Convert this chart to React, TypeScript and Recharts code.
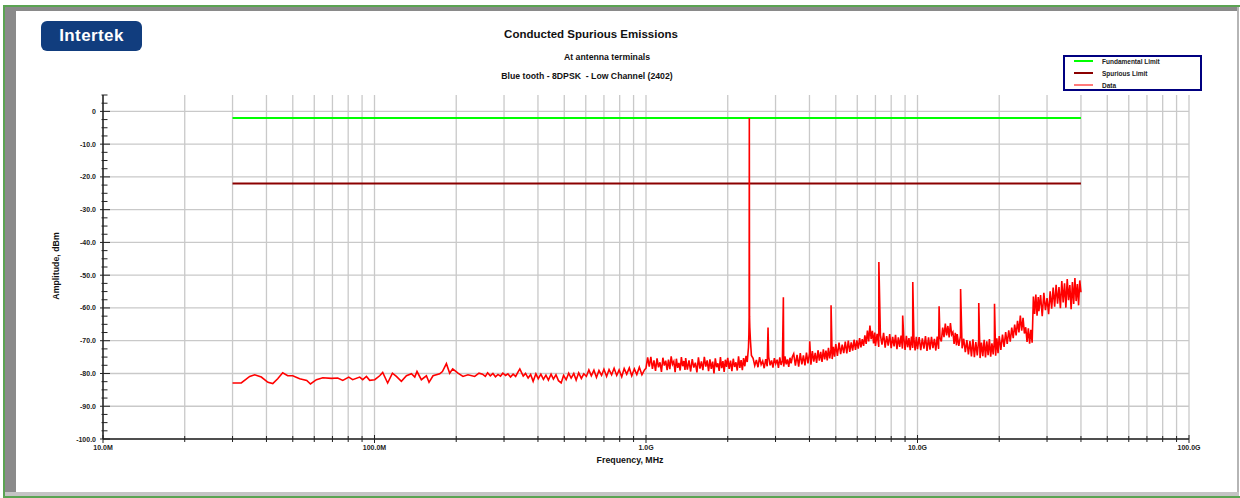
import React from 'react';
import { LineChart, Line, XAxis, YAxis, CartesianGrid, Legend } from 'recharts';

const FONT = '"Liberation Sans", Arial, Helvetica, sans-serif';

// x axis: frequency in MHz, log scale
const xDecades = [10, 100, 1000, 10000, 100000];
const xDecadeLabels = ['10.0M', '100.0M', '1.0G', '10.0G', '100.0G'];
const xMultipliers = [2, 3, 4, 5, 6, 7, 8, 9];

// y axis: amplitude in dBm
const yMajor = [0, -10, -20, -30, -40, -50, -60, -70, -80, -90, -100];
const yTop = 5;
const yBottom = -100;
const yMinorStep = 2.5;

// limit lines
const limitFreqs = [30, 40000];
const fundamentalLimit = -2;
const spuriousLimit = -22;

const legendOrder = ['Fundamental Limit', 'Spurious Limit', 'Data'];

// measured trace below 1 GHz [MHz, dBm]
const traceLow: [number, number][] = [
  [30.0, -82.9], [32.3, -82.9], [34.7, -80.9], [36.2, -80.4], [38.3, -81.1], [40.5, -82.7],
  [42.2, -83.1], [44.0, -81.6], [45.9, -79.8], [47.9, -80.7], [50.0, -80.7], [53.0, -81.6],
  [56.3, -82.1], [58.1, -83.2], [61.1, -81.9], [64.5, -81.3], [69.4, -81.5], [73.2, -81.4],
  [76.4, -82.1], [80.4, -81.1], [83.1, -81.9], [88.2, -81.1], [90.5, -81.9], [93.4, -80.9],
  [96.0, -82.1], [100.2, -81.9], [104.5, -80.7], [107.2, -79.7], [111.8, -82.9], [116.4, -79.9],
  [120.4, -80.9], [125.6, -82.4], [131.1, -80.7], [136.8, -80.1], [140.7, -81.1], [143.4, -79.4],
  [148.8, -81.9], [155.3, -80.7], [158.8, -82.7], [164.3, -80.7], [173.8, -80.1], [177.9, -79.4],
  [184.0, -77.0], [189.2, -79.9], [194.1, -78.6], [203.0, -79.9], [211.8, -80.9], [221.0, -80.4],
  [233.9, -80.9], [242.6, -79.9],
  [250, -80.2], [256, -80.9], [261, -79.8], [267, -80.7], [273, -80.0], [279, -81.0],
  [285, -80.3], [291, -80.8], [297, -79.9], [304, -80.6], [310, -80.1], [317, -81.1],
  [324, -80.2], [331, -80.9], [338, -79.5], [343, -78.6], [353, -80.8], [360, -80.0],
  [368, -81.4], [376, -80.3], [384, -82.4], [393, -80.1], [401, -81.6], [410, -80.2],
  [419, -81.8], [428, -80.5], [437, -82.0], [447, -80.2], [456, -81.7], [466, -80.4],
  [476, -82.2], [487, -82.9], [497, -80.6], [508, -81.9], [519, -79.9], [530, -81.4],
  [542, -80.0], [553, -82.0], [565, -79.8], [578, -81.5], [590, -80.1], [603, -80.9],
  [616, -78.9], [629, -80.7], [643, -79.0], [657, -81.2], [671, -79.1], [686, -80.6],
  [700, -78.7], [716, -80.9], [731, -78.8], [747, -80.4], [763, -78.4], [780, -80.6],
  [796, -78.9], [814, -81.0], [831, -78.5], [849, -80.2], [868, -78.3], [886, -80.7],
  [906, -78.6], [925, -80.3], [945, -78.1], [966, -80.4], [987, -78.9],
];

// carrier at 2402 MHz
const traceCarrier: [number, number][] = [
  [2385, -72.0], [2393, -68.0], [2398, -63.0], [2402, -2.0], [2406, -62.5], [2412, -66.0],
  [2425, -70.0], [2445, -74.5],
];

// discrete spurs [MHz, dBm]
const spurs: [number, number][] = [
  [2815, -66.0], [3206, -56.7], [4009, -70.2], [4804, -59.2], [7206, -46.0], [8820, -62.3],
  [9608, -52.1], [12010, -59.5], [14412, -54.2], [16814, -58.5], [19216, -58.7],
];

// swept noise floor above 1 GHz, amplitudes in dBm per sweep point
const sweep1Amps = [
  -78.4, -75.1, -77.9, -74.9, -78.6, -76.0, -79.2, -75.4, -78.1, -76.6,
  -79.5, -75.2, -77.6, -76.1, -79.0, -75.8, -78.7, -74.8, -77.2, -76.3,
  -79.6, -75.5, -78.3, -76.8, -79.1, -75.0, -77.8, -76.2, -78.9,
];
const sweep2Amps = [
  -75.3, -78.8, -76.0, -79.4, -75.6, -78.2, -76.7, -79.7, -75.1, -78.5,
  -76.3, -79.0, -74.9, -77.9, -76.0, -79.3, -75.7, -78.6, -76.4, -80.0,
  -75.4, -78.1, -76.9, -79.2, -75.0, -78.4, -76.2, -79.5, -75.8, -78.0,
];
const sweep3Amps = [
  -75.2, -78.6, -76.1, -79.3, -75.5, -78.0, -76.6, -79.1, -74.8, -78.3,
  -75.9, -79.0, -75.3, -77.8, -74.6, -76.5,
];
const sweep4Amps = [
  -75.4, -77.6, -75.9, -78.1, -75.0, -77.3, -76.2, -78.4, -75.6, -77.8,
  -74.9, -77.5, -76.0, -78.2, -75.3, -77.0, -75.8, -78.3, -75.1, -77.4,
  -76.1, -77.9, -74.8, -77.2, -75.7, -78.0, -75.2, -76.9, -74.9,
];
const sweep5Amps = [
  -74.0, -77.6, -74.3, -77.9, -73.8, -77.2, -74.5, -77.5, -73.6, -76.9,
  -73.9, -77.3, -73.2, -76.4, -73.7, -76.8, -72.9, -76.1, -73.4, -76.5,
  -72.6, -75.7, -73.0, -76.0, -72.2, -75.4, -72.7, -75.6, -71.9, -74.9,
];
const sweep6Amps = [
  -71.0, -74.6, -70.6, -74.1, -71.2, -73.8, -70.3, -73.9, -70.0, -73.4,
  -70.5, -73.0, -69.7, -72.8, -69.9, -72.4, -69.2, -72.0, -69.5, -71.6,
  -68.4, -71.0, -66.9, -70.2, -65.4, -69.5, -67.0, -70.8, -67.5,
];
const sweep7Amps = [
  -71.6, -67.9, -71.9, -68.3, -71.2, -67.6, -72.1, -68.6, -71.5, -68.0,
  -72.3, -68.8, -71.7, -68.2, -72.6, -69.0, -71.9, -68.4, -72.4, -68.9,
  -72.8, -68.5, -72.0, -69.2, -72.9, -68.7, -72.2, -69.3, -73.0, -68.8,
];
const sweep8Amps = [
  -72.6, -68.9, -72.9, -69.3, -72.4, -68.6, -73.1, -69.0, -72.7, -68.8,
  -72.3, -69.4, -73.0, -68.7, -72.5, -69.1, -70.2, -66.0, -68.9, -64.8,
  -68.4, -65.5, -69.0, -64.6, -68.1, -67.4, -71.0, -67.6, -71.4,
];
const sweep9Amps = [
  -68.0, -71.6, -68.5, -72.3, -69.4, -73.5, -69.8, -74.2, -70.1, -74.8,
  -69.6, -75.0, -70.4, -74.5, -69.9, -75.3, -70.6, -74.7, -69.7, -75.1,
  -70.2, -74.4, -69.5, -74.9, -70.8, -74.2, -69.8, -74.6, -69.3, -73.8,
];
const sweep10Amps = [
  -68.6, -72.8, -68.1, -71.9, -67.4, -71.0, -66.8, -70.3, -66.0, -69.2,
  -65.1, -68.4, -63.9, -67.5, -62.3, -66.9, -63.0, -67.8, -65.9, -70.4,
  -66.2, -70.9, -66.7, -70.6, -56.5, -61.8, -55.9, -62.4, -56.7,
];
const sweep11Amps = [
  -61.0, -56.1, -62.5, -55.4, -60.7, -57.0, -61.9, -54.9, -60.2, -53.8,
  -59.6, -52.9, -58.7, -53.6, -60.1, -51.8, -58.3, -52.5, -59.9, -51.2,
  -57.6, -53.0, -60.4, -52.1, -58.8, -50.9, -57.9, -52.7, -59.2, -51.6,
  -55.2,
];

// sweep start / step in MHz for each block above
const sweeps: { start: number; step: number; amps: number[] }[] = [
  { start: 1000, step: 14, amps: sweep1Amps },
  { start: 1400, step: 20, amps: sweep2Amps },
  { start: 2000, step: 24, amps: sweep3Amps },
  { start: 2480, step: 35, amps: sweep4Amps },
  { start: 3500, step: 50, amps: sweep5Amps },
  { start: 5000, step: 70, amps: sweep6Amps },
  { start: 7000, step: 100, amps: sweep7Amps },
  { start: 10000, step: 140, amps: sweep8Amps },
  { start: 14000, step: 200, amps: sweep9Amps },
  { start: 20000, step: 280, amps: sweep10Amps },
  { start: 28000, step: 400, amps: sweep11Amps },
];

const sweptPoints: [number, number][] = sweeps.flatMap((s) =>
  s.amps.map((a, i) => [s.start + i * s.step, a] as [number, number])
);

const traceData = [...traceLow, ...traceCarrier, ...sweptPoints, ...spurs]
  .sort((a, b) => a[0] - b[0])
  .map(([f, v]) => ({ f, v }));
const fundamentalData = limitFreqs.map((f) => ({ f, v: fundamentalLimit }));
const spuriousData = limitFreqs.map((f) => ({ f, v: spuriousLimit }));

const xTicks = xDecades.flatMap((d, i) =>
  i < xDecades.length - 1 ? [d, ...xMultipliers.map((m) => d * m)] : [d]
);
const yTicks = Array.from(
  { length: Math.round((yTop - yBottom) / yMinorStep) + 1 },
  (_, i) => yTop - i * yMinorStep
);

const XTick = (props: any) => {
  const { x, y, payload } = props;
  const i = xDecades.indexOf(payload.value);
  const major = i >= 0;
  return (
    <g>
      <line x1={x} x2={x} y1={y - (major ? 4 : 3)} y2={y + (major ? 4 : 3)} stroke="#222" strokeWidth={1} />
      {major && (
        <text x={x} y={y + 11} textAnchor="middle" fontSize={7} fontWeight="bold" fill="#222" fontFamily={FONT}>
          {xDecadeLabels[i]}
        </text>
      )}
    </g>
  );
};

const YTick = (props: any) => {
  const { x, y, payload } = props;
  const v = payload.value;
  const major = yMajor.includes(v);
  return (
    <g>
      <line x1={x - (major ? 3 : 1.5)} x2={x + (major ? 7 : 4.5)} y1={y} y2={y} stroke="#222" strokeWidth={1} />
      {major && (
        <text x={x - 7} y={y + 2.5} textAnchor="end" fontSize={7} fontWeight="bold" fill="#222" fontFamily={FONT}>
          {v === 0 ? '0' : v.toFixed(1)}
        </text>
      )}
    </g>
  );
};

const renderLegend = (props: any) => {
  const payload = [...(props.payload || [])].sort(
    (a: any, b: any) => legendOrder.indexOf(a.value) - legendOrder.indexOf(b.value)
  );
  return (
    <div
      style={{
        position: 'relative',
        width: 139,
        height: 36,
        boxSizing: 'border-box',
        border: '2px solid #000080',
        background: '#fff',
        fontFamily: FONT,
        fontSize: 6.5,
        fontWeight: 'bold',
        color: '#222',
      }}
    >
      {payload.map((entry: any, i: number) => {
        const isData = entry.value === 'Data';
        return (
          <div
            key={entry.value}
            style={{ position: 'absolute', left: 0, top: -2 + i * 12.2, height: 12, display: 'flex', alignItems: 'center' }}
          >
            <span
              style={{
                display: 'inline-block',
                marginLeft: 9,
                width: 19,
                height: 2,
                background: isData ? '#ff7a7a' : entry.color,
              }}
            />
            <span style={{ marginLeft: 9, whiteSpace: 'nowrap' }}>{entry.value}</span>
          </div>
        );
      })}
    </div>
  );
};

const Txt = ({ x, y, size, children, rotate }: any) => (
  <div
    style={{
      position: 'absolute',
      left: x,
      top: y,
      transform: `translate(-50%, -50%)${rotate ? ` rotate(${rotate}deg)` : ''}`,
      fontFamily: FONT,
      fontWeight: 'bold',
      fontSize: size,
      lineHeight: 1,
      whiteSpace: 'pre',
      color: '#111',
    }}
  >
    {children}
  </div>
);

const box = (style: React.CSSProperties) => <div style={{ position: 'absolute', ...style }} />;

export default function App() {
  return (
    <div style={{ position: 'absolute', left: 0, top: 0, width: 1240, height: 498, background: '#fff', overflow: 'hidden' }}>
      {box({ left: 3, top: 5, width: 1237, height: 2, background: '#5aa352' })}
      {box({ left: 5, top: 7, width: 1233, height: 4, background: '#8a8a8a' })}
      {box({ left: 3, top: 5, width: 2, height: 493, background: '#5aa352' })}
      {box({ left: 5, top: 7, width: 11, height: 486, background: '#8a8a8a' })}
      {box({ left: 1237, top: 7, width: 2, height: 488, background: '#b5b5b5' })}
      {box({ left: 5, top: 492, width: 1234, height: 4, background: '#c4c4c4' })}
      {box({ left: 3, top: 496, width: 1237, height: 2, background: '#5aa352' })}

      <div
        style={{
          position: 'absolute',
          left: 41,
          top: 21,
          width: 101,
          height: 30,
          borderRadius: 6,
          background: '#113d7e',
          color: '#fff',
          fontFamily: FONT,
          fontWeight: 'bold',
          fontSize: 17,
          lineHeight: '30px',
          textAlign: 'center',
          letterSpacing: 0.4,
        }}
      >
        Intertek
      </div>

      <Txt x={591} y={35} size={11.5}>Conducted Spurious Emissions</Txt>
      <Txt x={607} y={57} size={8.7}>At antenna terminals</Txt>
      <Txt x={587} y={75.5} size={8.7}>{'Blue tooth - 8DPSK  - Low Channel (2402)'}</Txt>
      <Txt x={56} y={266} size={8.8} rotate={-90}>Amplitude, dBm</Txt>
      <Txt x={630} y={460} size={8.8}>Frequency, MHz</Txt>

      <div style={{ position: 'absolute', left: 0, top: 0 }}>
        <LineChart width={1240} height={498} margin={{ top: 95, right: 51, bottom: 0, left: 0 }}>
          <CartesianGrid
            stroke="#c9c9c9"
            strokeWidth={1.3}
            horizontalValues={yMajor}
            verticalValues={xTicks}
          />
          <XAxis
            dataKey="f"
            type="number"
            scale="log"
            domain={[xDecades[0], xDecades[xDecades.length - 1]]}
            ticks={xTicks}
            interval={0}
            allowDataOverflow
            height={59}
            tickSize={0}
            tickMargin={0}
            tickLine={false}
            tick={<XTick />}
            axisLine={{ stroke: '#222', strokeWidth: 1.5 }}
          />
          <YAxis
            type="number"
            domain={[yBottom, yTop]}
            ticks={yTicks}
            interval={0}
            allowDataOverflow
            width={103}
            tickSize={0}
            tickMargin={0}
            tickLine={false}
            tick={<YTick />}
            axisLine={{ stroke: '#222', strokeWidth: 1.5 }}
          />
          <Legend
            layout="horizontal"
            verticalAlign="middle"
            align="center"
            content={renderLegend}
            wrapperStyle={{ left: 1063, top: 55, width: 139, height: 36 }}
          />
          <Line
            name="Fundamental Limit"
            data={fundamentalData}
            dataKey="v"
            stroke="#00ff00"
            strokeWidth={2}
            dot={false}
            isAnimationActive={false}
          />
          <Line
            name="Spurious Limit"
            data={spuriousData}
            dataKey="v"
            stroke="#8b0000"
            strokeWidth={2}
            dot={false}
            isAnimationActive={false}
          />
          <Line
            name="Data"
            data={traceData}
            dataKey="v"
            stroke="#ff0000"
            strokeWidth={1.6}
            dot={false}
            isAnimationActive={false}
          />
        </LineChart>
      </div>
    </div>
  );
}
